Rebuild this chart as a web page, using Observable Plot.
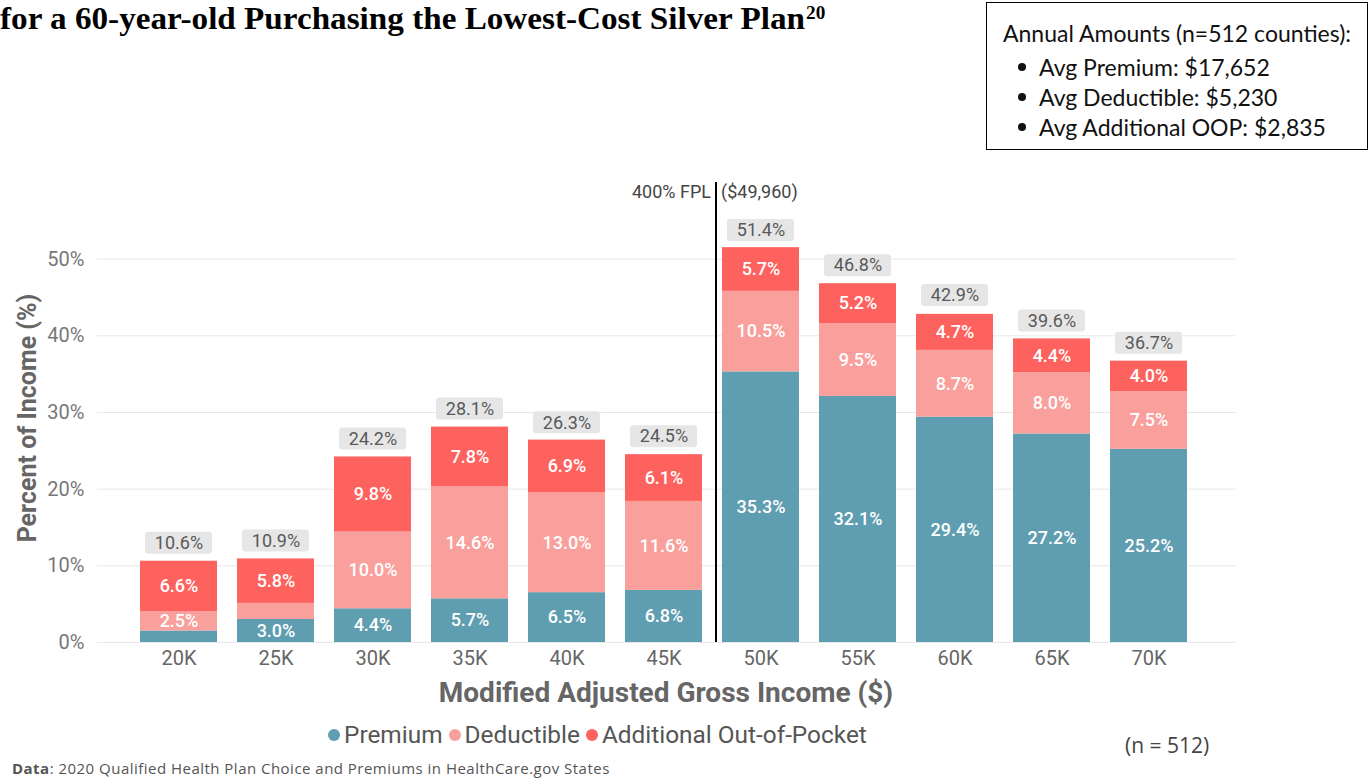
<!DOCTYPE html>
<html>
<head>
<meta charset="utf-8">
<script src="https://cdn.jsdelivr.net/npm/d3@7"></script>
<script src="https://cdn.jsdelivr.net/npm/@observablehq/plot@0.6"></script>
<style>
  html, body { margin: 0; padding: 0; background: #fff; }
  #page { position: relative; width: 1372px; height: 778px; overflow: hidden; font-family: Roboto, "DejaVu Sans", sans-serif; }
  #title { position: absolute; left: 0; top: 1px; font-family: "Liberation Serif", "Times New Roman", serif; font-weight: bold; font-size: 31px; line-height: 35px; color: #000; white-space: nowrap; transform: scaleX(1.07); transform-origin: 0 0; }
  #title sup { font-size: 18px; line-height: 18px; position: relative; top: -10px; vertical-align: baseline; margin-left: 1px; }
  #box { position: absolute; left: 986px; top: 2px; width: 380px; height: 146px; border: 1.5px solid #000; font-family: Lato, "Open Sans", sans-serif; font-size: 23px; color: #111; }
  #box .l { position: absolute; white-space: nowrap; line-height: 26px; }
  #box .b { position: absolute; width: 8px; height: 8px; border-radius: 50%; background: #111; }
  #chart { position: absolute; left: 0; top: 0; }
  #ylab { position: absolute; left: 27px; top: 418px; transform: translate(-50%, -50%) rotate(-90deg); font-weight: bold; font-size: 25px; color: #666; white-space: nowrap; }
  #xlab { position: absolute; left: 666px; top: 692px; transform: translate(-50%, -50%); font-weight: bold; font-size: 28px; color: #666; white-space: nowrap; }
  #legend { position: absolute; left: 328px; top: 720px; font-size: 24.4px; line-height: 30px; color: #555; white-space: nowrap; display: flex; align-items: center; }
  #legend .d { display: inline-block; width: 12px; height: 12px; border-radius: 50%; margin-right: 4px; margin-left: 6px; }
  #n { position: absolute; left: 1125px; top: 730px; font-family: "Open Sans", sans-serif; font-size: 21px; line-height: 30px; color: #444; white-space: nowrap; }
  #foot { position: absolute; left: 12px; top: 760px; font-family: "Open Sans", sans-serif; font-size: 15px; line-height: 17px; letter-spacing: 0.48px; color: #555; white-space: nowrap; }
</style>
</head>
<body>
<div id="page">
  <div id="title">for a 60-year-old Purchasing the Lowest-Cost Silver Plan<sup>20</sup></div>
  <div id="box"></div>
  <div id="chart"></div>
  <div id="ylab">Percent of Income (%)</div>
  <div id="xlab">Modified Adjusted Gross Income ($)</div>
  <div id="legend"></div>
  <div id="n">(n = 512)</div>
  <div id="foot"><b>Data</b>: 2020 Qualified Health Plan Choice and Premiums in HealthCare.gov States</div>
</div>
<script>
const incomes = ["20K","25K","30K","35K","40K","45K","50K","55K","60K","65K","70K"];
const categories = ["Premium","Deductible","Additional Out-of-Pocket"];
const colors = ["#5f9db0","#f9a09d","#fd625e"];
const premium    = [1.5, 3.0, 4.4, 5.7, 6.5, 6.8, 35.3, 32.1, 29.4, 27.2, 25.2];
const deductible = [2.5, 2.1, 10.0, 14.6, 13.0, 11.6, 10.5, 9.5, 8.7, 8.0, 7.5];
const additional = [6.6, 5.8, 9.8, 7.8, 6.9, 6.1, 5.7, 5.2, 4.7, 4.4, 4.0];
const totals     = [10.6, 10.9, 24.2, 28.1, 26.3, 24.5, 51.4, 46.8, 42.9, 39.6, 36.7];
const yTicks = [0, 10, 20, 30, 40, 50];
const boxLines = ["Annual Amounts (n=512 counties):", "Avg Premium: $17,652", "Avg Deductible: $5,230", "Avg Additional OOP: $2,835"];
const fplLeft = "400% FPL", fplRight = "($49,960)";
const fplAt = "50K";

// annotation box
const box = document.getElementById("box");
boxLines.forEach((t, i) => {
  const centers = [30, 64, 94, 124];
  const el = document.createElement("div");
  el.className = "l";
  el.textContent = t;
  el.style.top = (centers[i] - 13) + "px";
  el.style.left = (i === 0 ? 16 : 52) + "px";
  box.appendChild(el);
  if (i > 0) {
    const b = document.createElement("div");
    b.className = "b";
    b.style.left = "31px";
    b.style.top = (centers[i] - 4) + "px";
    box.appendChild(b);
  }
});

// legend
const legend = document.getElementById("legend");
categories.forEach((c, i) => {
  const d = document.createElement("span");
  d.className = "d";
  d.style.background = colors[i];
  if (i === 0) d.style.marginLeft = "0px";
  legend.appendChild(d);
  const s = document.createElement("span");
  s.textContent = c;
  legend.appendChild(s);
});

const series = [premium, deductible, additional];
const data = [];
incomes.forEach((inc, i) => {
  categories.forEach((c, k) => data.push({income: inc, category: c, value: series[k][i]}));
});
const totalData = incomes.map((inc, i) => ({income: inc, total: totals[i]}));

const chart = Plot.plot({
  width: 1372,
  height: 700,
  marginLeft: 97,
  marginRight: 137,
  marginTop: 182,
  marginBottom: 58,
  style: {fontFamily: "Roboto, 'DejaVu Sans', sans-serif", fontSize: "20px", background: "transparent"},
  x: {domain: incomes, range: [125, 1201], paddingInner: 0.21, paddingOuter: 0.105, label: null},
  y: {domain: [0, 60], label: null},
  color: {domain: categories, range: colors},
  marks: [
    Plot.gridY(yTicks, {stroke: "#e8e8e8", strokeOpacity: 1, strokeWidth: 1}),
    Plot.axisY(yTicks, {tickSize: 0, tickPadding: 13, tickFormat: d => d + "%", fill: "#777", fontSize: 20, label: null}),
    Plot.axisX({tickSize: 0, tickPadding: 8, fill: "#666", fontSize: 20, label: null}),
    Plot.barY(data, {x: "income", y: "value", fill: "category"}),
    Plot.text(data, Plot.stackY({x: "income", y: "value", z: "category",
      text: d => d.value >= 2.2 ? d.value.toFixed(1) + "%" : "",
      fill: "white", fontSize: 18, fontWeight: 500})),
    Plot.barY(totalData, {x: "income", y1: "total", y2: "total", insetTop: -29, insetBottom: 7, insetLeft: 5, insetRight: 5, rx: 3, fill: "#e6e6e6"}),
    Plot.text(totalData, {x: "income", y: "total", text: d => d.total.toFixed(1) + "%", dy: -18, fill: "#595959", fontSize: 18}),
    Plot.ruleX([fplAt], {x: d => d, y1: 0, y2: 60, dx: -45, stroke: "#000", strokeWidth: 2}),
    Plot.text([fplAt], {x: d => d, y: 58.7, text: () => fplLeft, dx: -50, textAnchor: "end", fill: "#444", fontSize: 18}),
    Plot.text([fplAt], {x: d => d, y: 58.7, text: () => fplRight, dx: -40, textAnchor: "start", fill: "#444", fontSize: 18})
  ]
});
document.getElementById("chart").appendChild(chart);
</script>
</body>
</html>
